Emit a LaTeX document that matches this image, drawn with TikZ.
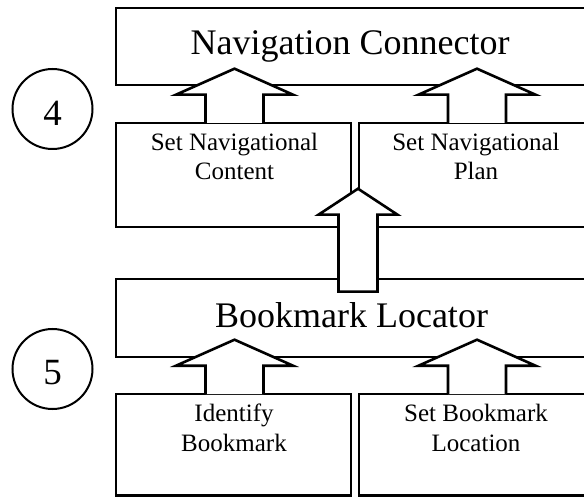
\documentclass[tikz,border=0pt]{standalone}
\usepackage{fontspec}
\setmainfont{Liberation Serif}
\tikzset{
  pics/blockup/.style n args={4}{code={%
    % #1 length foot->tip, #2 head length, #3 head half width, #4 shaft half width
    \fill[white] (-#4,1.3) -- (-#4,-#1+#2) -- (-#3,-#1+#2) -- (0,-#1)
      -- (#3,-#1+#2) -- (#4,-#1+#2) -- (#4,1.3) -- cycle;
    \draw[arrowline] (-#4,1.3) -- (-#4,-#1+#2) -- (-#3,-#1+#2) -- (0,-#1)
      -- (#3,-#1+#2) -- (#4,-#1+#2) -- (#4,1.3);
  }},
  pics/blockupclosed/.style n args={4}{code={%
    \draw[arrowline,fill=white] (-#4,0) -- (-#4,-#1+#2) -- (-#3,-#1+#2) -- (0,-#1)
      -- (#3,-#1+#2) -- (#4,-#1+#2) -- (#4,0) -- cycle;
  }}
}
\begin{document}
\begin{tikzpicture}[x=1pt,y=-1pt,
  box/.style={draw,line width=2.6pt,rectangle,inner sep=0pt},
  arrowline/.style={line width=2.6pt,line join=miter},
  big/.style={font=\fontsize{36}{40}\selectfont,inner sep=0pt},
  small/.style={font=\fontsize{25}{29.3}\selectfont,align=center,inner sep=0pt},
  num/.style={circle,draw,line width=2pt,minimum size=80pt,inner sep=0pt},
  digit/.style={font=\fontsize{37}{40}\selectfont,inner sep=0pt}]
\useasboundingbox (0,0) rectangle (584,497);
\clip (0,0) rectangle (584,497);

% level 4: navigation connector and its two parts
\node[box,minimum width=484pt,minimum height=77pt] (nav) at (358,46.5) {};
\node[box,minimum width=235pt,minimum height=104pt] (setc) at (233.5,175) {};
\node[box,minimum width=236pt,minimum height=104pt] (setp) at (477,175) {};

% level 5: bookmark locator and its two parts
\node[box,minimum width=484pt,minimum height=78pt] (bml) at (358,318) {};
\node[box,minimum width=235pt,minimum height=101.5pt] (idb) at (233.5,444.75) {};
\node[box,minimum width=236pt,minimum height=101.5pt] (sbl) at (477,444.75) {};

% block arrows
\pic at ([xshift=1pt]setc.north) {blockup={53}{26}{58.5}{29}};
\pic at (setp.north) {blockup={53}{26}{58.5}{29}};
\pic at ([xshift=1pt]idb.north) {blockup={53}{26}{58.5}{29}};
\pic at (sbl.north) {blockup={53}{26}{58.5}{29}};
\pic at ([yshift=-14pt]bml.north) {blockupclosed={103}{26}{39.5}{19.5}};

% labels (base of a two-line label is its last line)
\node[big,anchor=base] (navt) at (350,55) {Navigation Connector};
\node[big,anchor=base] (bmlt) at (351.5,327) {Bookmark Locator};
\node[small,anchor=base] (setct) at (234.5,180) {Set Navigational\\Content};
\node[small,anchor=base] (setpt) at (476,180) {Set Navigational\\Plan};
\node[small,anchor=base] (idbt) at (234,451) {Identify\\Bookmark};
\node[small,anchor=base] (sblt) at (476,451) {Set Bookmark\\Location};

% level markers
\node[num] (n4) at (52.5,109) {};
\node[digit] (d4) at ([yshift=-4pt]n4.center) {4};
\node[num] (n5) at (52.5,369) {};
\node[digit] (d5) at ([yshift=-4pt]n5.center) {5};
\end{tikzpicture}
\end{document}
